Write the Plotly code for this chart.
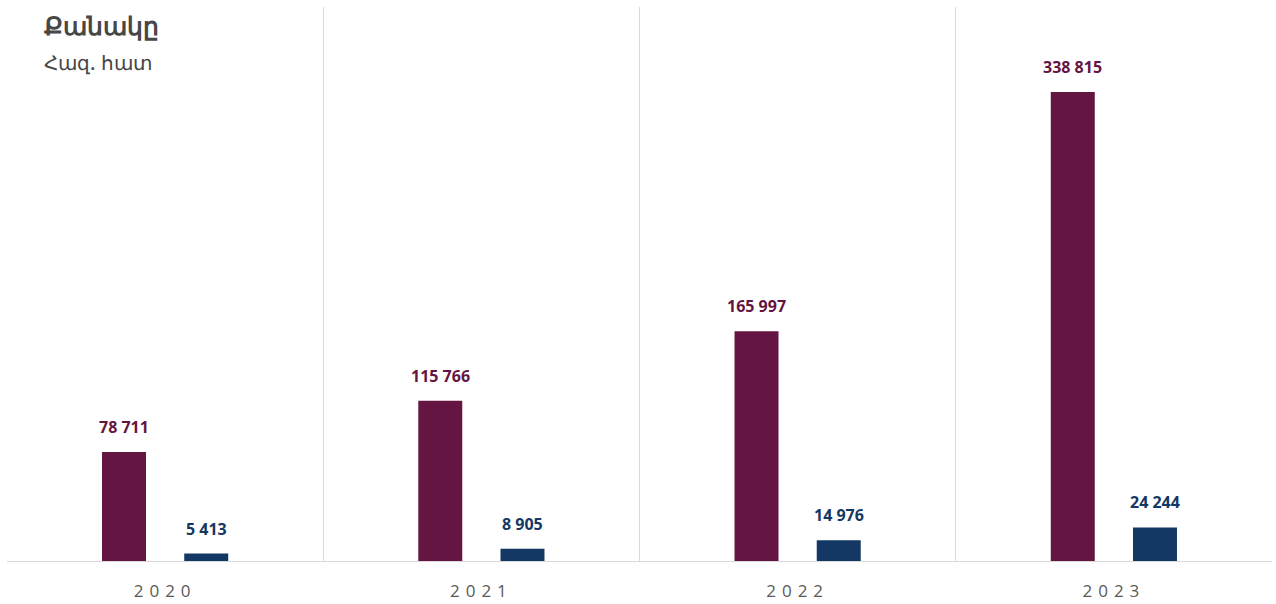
import plotly.graph_objects as go

years = ["2020", "2021", "2022", "2023"]
series_a = [78711, 115766, 165997, 338815]
series_b = [5413, 8905, 14976, 24244]

COLOR_A = "#641541"
COLOR_B = "#133863"
FONT = "Open Sans"
TITLE_FONT = "Noto Sans"


def fmt(v):
    return f"{v:,}".replace(",", " ")


fig = go.Figure()
fig.add_bar(x=years, y=series_a, marker=dict(color=COLOR_A, line_width=0),
            hoverinfo="skip")
fig.add_bar(x=years, y=series_b, marker=dict(color=COLOR_B, line_width=0),
            hoverinfo="skip")

# value labels above each bar
for i, yr in enumerate(years):
    for vals, col, off in ((series_a, COLOR_A, -0.13), (series_b, COLOR_B, 0.13)):
        fig.add_annotation(x=i + off, y=vals[i], xref="x", yref="y",
                           text=f"<b>{fmt(vals[i])}</b>", showarrow=False,
                           yshift=25, font=dict(family=FONT, size=16, color=col))

fig.add_annotation(x=0, y=1, xref="paper", yref="paper", xanchor="left",
                   yanchor="middle", xshift=35, yshift=-18, showarrow=False,
                   text="Քանակը",
                   font=dict(family=TITLE_FONT, size=25, color="#474747",
                             weight=800))
fig.add_annotation(x=0, y=1, xref="paper", yref="paper", xanchor="left",
                   yanchor="middle", xshift=35, yshift=-55, showarrow=False,
                   text="Հազ. հատ",
                   font=dict(family=TITLE_FONT, size=20, color="#474747",
                             weight=500))

fig.update_layout(
    width=1276, height=604,
    margin=dict(l=7, r=4, t=7, b=43, autoexpand=False),
    paper_bgcolor="white", plot_bgcolor="white",
    barmode="group", bargap=0.48, bargroupgap=0.465,
    showlegend=False,
    xaxis=dict(
        type="category", range=[-0.5, 3.5], automargin=False,
        tickmode="array", tickvals=years,
        ticktext=[f'<span style="letter-spacing:6px">{y}</span>' for y in years],
        tickson="boundaries", showgrid=True, gridcolor="#d9d9d9", gridwidth=1,
        showline=True, linecolor="#d9d9d9", linewidth=1,
        ticks="", ticklabelstandoff=15,
        tickfont=dict(family=FONT, size=17, color="#595959"),
    ),
    yaxis=dict(range=[0, 400200], showgrid=False, zeroline=False,
               showticklabels=False, ticks="", automargin=False),
)

fig.write_html("out.html")
